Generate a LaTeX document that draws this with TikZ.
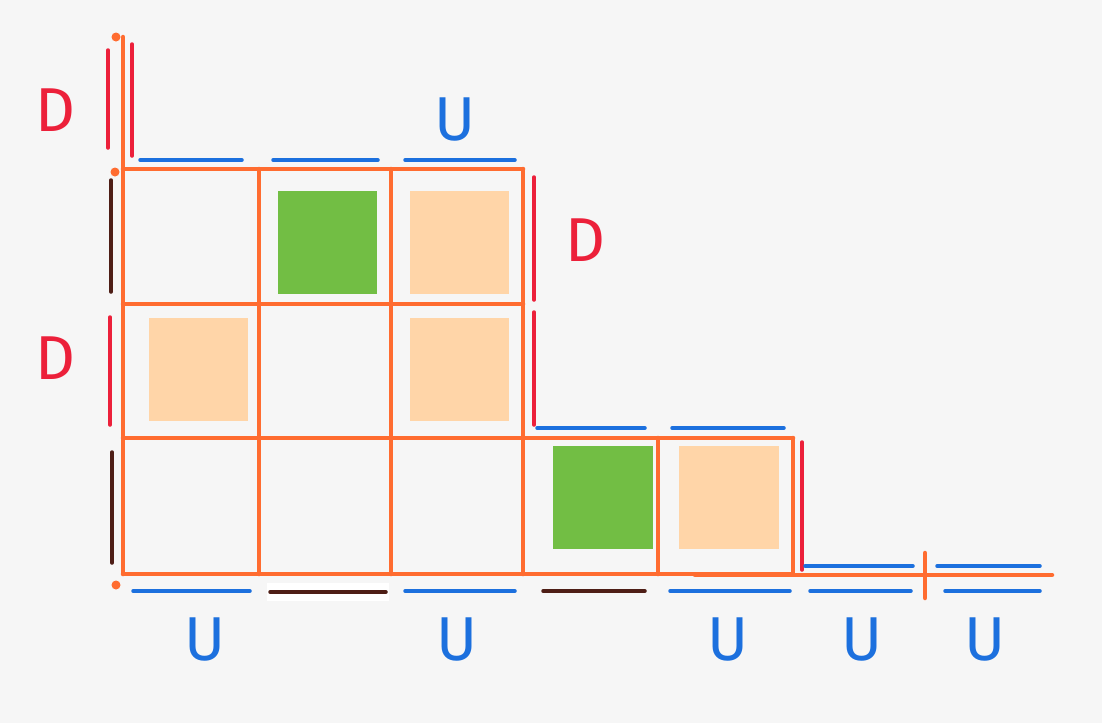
\documentclass[tikz,border=0pt]{standalone}
\usepackage{fontspec}
\setsansfont{Fira Sans}
\definecolor{gridorange}{RGB}{255,108,48}
\definecolor{markred}{RGB}{236,32,58}
\definecolor{markblue}{RGB}{28,112,222}
\definecolor{markbrown}{RGB}{78,30,22}
\definecolor{cellgreen}{RGB}{114,190,68}
\definecolor{cellpeach}{RGB}{255,213,168}
\definecolor{board}{RGB}{246,246,246}
\usetikzlibrary{positioning}

\begin{document}
\begin{tikzpicture}[x=1pt,y=-1pt,
  grid/.style={draw=gridorange, line width=4.5pt, line cap=round},
  umark/.style={draw=markblue, line width=3.5pt, line cap=round},
  dmark/.style={draw=markred, line width=3.5pt, line cap=round},
  bmark/.style={draw=markbrown, line width=3.5pt, line cap=round},
  dlabel/.style={text=markred, font=\sffamily\fontsize{62}{62}\selectfont, inner sep=0pt},
  ulabel/.style={text=markblue, font=\sffamily\fontsize{62}{62}\selectfont, inner sep=0pt}]
  \fill[board] (0,0) rectangle (1102,723);
  \useasboundingbox (0,0) rectangle (1102,723);

  % coloured cells
  \fill[cellgreen] (278,191) rectangle (377,294);
  \fill[cellpeach] (410,191) rectangle (509,294);
  \fill[cellpeach] (149,318) rectangle (248,421);
  \fill[cellpeach] (410,318) rectangle (509,421);
  \fill[cellgreen] (553,446) rectangle (653,549);
  \fill[cellpeach] (679,446) rectangle (779,549);

  % the diagram
  \draw[grid] (123,37) -- (123,574);
  \foreach \y in {169,304} \draw[grid] (123,\y) -- (523,\y);
  \draw[grid] (123,438) -- (793,438);
  \draw[grid] (123,574) -- (793,574);
  \draw[grid] (695,575) -- (1052,575);
  \draw[grid] (925,553) -- (925,598);
  \foreach \x in {259,391,523} \draw[grid] (\x,169) -- (\x,574);
  \foreach \x in {658,793} \draw[grid] (\x,438) -- (\x,574);
  \foreach \p in {(116,37),(115,172),(116,585)} \fill[gridorange] \p circle[radius=4.5pt];

  % left border
  \draw[dmark] (108,50) -- (108,148);
  \draw[dmark] (132,44) -- (132,156);
  \draw[bmark] (111,180) -- (111,292);
  \draw[dmark] (110,317) -- (110,425);
  \draw[bmark] (112,452) -- (112,563);

  % top border
  \foreach \a/\b in {140/242,273/378,405/515} \draw[umark] (\a,160) -- (\b,160);
  \draw[dmark] (534,177) -- (534,300);
  \draw[dmark] (534,312) -- (534,425);
  \foreach \a/\b in {537/645,672/784} \draw[umark] (\a,428) -- (\b,428);
  \draw[dmark] (802,442) -- (802,570);
  \foreach \a/\b in {805/913,937/1040} \draw[umark] (\a,566) -- (\b,566);

  % bottom border
  \fill[white] (267,583) rectangle (389,601);
  \foreach \a/\b in {133/250,405/515,670/790,810/911,945/1040} \draw[umark] (\a,591) -- (\b,591);
  \draw[bmark] (270,592) -- (386,592);
  \draw[bmark] (543,591) -- (645,591);

  % labels
  \node[dlabel] (d1) at (55,110) {D};
  \node[dlabel] (d2) at (55,358) {D};
  \node[dlabel] (d3) at (585,240) {D};
  \node[ulabel] (u0) at (455,120) {U};
  \foreach \x [count=\i] in {205,457,728,862,985}
    \node[ulabel] (u\i) at (\x,640) {U};
\end{tikzpicture}
\end{document}
